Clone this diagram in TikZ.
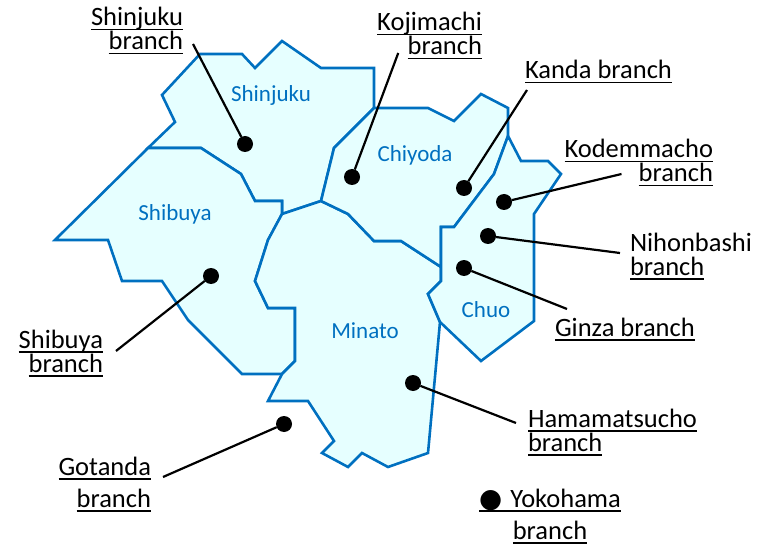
\documentclass[tikz,border=0pt]{standalone}
\usepackage{fontspec}
\setmainfont{Carlito}
\newfontfamily\dotfont{DejaVu Sans}
\usepackage{tkz-graph}
\usetikzlibrary{arrows}
\usetikzlibrary{shapes}

\definecolor{wardblue}{RGB}{0,112,192}
\definecolor{wardfill}{RGB}{230,255,255}
\newcommand{\undl}[1]{\setbox0=\hbox{#1}\rlap{\rule[-4.5pt]{\wd0}{1.8pt}}\box0}

\begin{document}
\begin{tikzpicture}[x = 1pt, y = -1pt]
	\tikzstyle{VertexStyle} = []
	\tikzstyle{EdgeStyle} = []
	\tikzstyle{wardStyle} = [draw = wardblue, fill = wardfill, line width = 2.6pt]
	\tikzstyle{wardNameStyle} = [anchor = base, inner sep = 0pt, text = wardblue, font = \fontsize{23}{26}\selectfont]
	\tikzstyle{dotStyle} = [shape = circle, minimum size = 16pt, inner sep = 0pt, fill = black]
	\tikzstyle{branchStyle} = [inner sep = 0pt, font = \fontsize{26.5}{24}\selectfont]
	\tikzstyle{branchWideStyle} = [inner sep = 0pt, font = \fontsize{26.5}{32}\selectfont]
	\tikzstyle{leaderStyle} = [line width = 2.2pt]
	\useasboundingbox (0,0) rectangle (765,545);
	% wards
	\draw[wardStyle] (200,54) -- (242,54) -- (255,68) -- (282,41) -- (321,68) -- (374,68) -- (374,108) -- (334,148) -- (321,201) -- (282,214) -- (282,201) -- (255,201) -- (241,174) -- (201,148) -- (148,148) -- (175,122) -- (162,95) -- cycle;
	\draw[wardStyle] (148,148) -- (201,148) -- (241,174) -- (255,201) -- (282,201) -- (282,214) -- (268,240) -- (255,281) -- (268,308) -- (295,308) -- (295,361) -- (282,374) -- (242,374) -- (188,320) -- (162,281) -- (122,281) -- (108,240) -- (55,240) -- cycle;
	\draw[wardStyle] (282,214) -- (321,201) -- (348,214) -- (374,241) -- (401,241) -- (441,267) -- (441,281) -- (428,294) -- (440,322) -- (428,453) -- (388,467) -- (362,453) -- (348,467) -- (322,453) -- (334,441) -- (308,401) -- (268,401) -- (282,374) -- (295,361) -- (295,308) -- (268,308) -- (255,281) -- (268,240) -- cycle;
	\draw[wardStyle] (321,201) -- (334,148) -- (374,108) -- (428,108) -- (454,121) -- (481,94) -- (508,108) -- (508,136) -- (494,174) -- (454,227) -- (441,227) -- (441,267) -- (401,241) -- (374,241) -- (348,214) -- cycle;
	\draw[wardStyle] (508,136) -- (521,161) -- (548,161) -- (561,174) -- (534,214) -- (534,321) -- (481,361) -- (440,322) -- (428,294) -- (441,281) -- (441,227) -- (454,227) -- (494,174) -- cycle;
	\Vertex[style = wardNameStyle, x = 271, y = 102, L = {Shinjuku}]{shinjukuname}
	\Vertex[style = wardNameStyle, x = 175, y = 221, L = {Shibuya}]{shibuyaname}
	\Vertex[style = wardNameStyle, x = 415, y = 162, L = {Chiyoda}]{chiyodaname}
	\Vertex[style = wardNameStyle, x = 365, y = 338, L = {Minato}]{minatoname}
	\Vertex[style = wardNameStyle, x = 486, y = 317, L = {Chuo}]{chuoname}
	% branches
	\Vertex[style = dotStyle, x = 245, y = 144, NoLabel]{shinjukudot}
	\Vertex[style = dotStyle, x = 352, y = 177, NoLabel]{kojimachidot}
	\Vertex[style = dotStyle, x = 464, y = 188, NoLabel]{kandadot}
	\Vertex[style = dotStyle, x = 504, y = 202, NoLabel]{kodemmachodot}
	\Vertex[style = dotStyle, x = 488, y = 236, NoLabel]{nihonbashidot}
	\Vertex[style = dotStyle, x = 464, y = 268, NoLabel]{ginzadot}
	\Vertex[style = dotStyle, x = 211, y = 276, NoLabel]{shibuyadot}
	\Vertex[style = dotStyle, x = 413, y = 383, NoLabel]{hamamatsuchodot}
	\Vertex[style = dotStyle, x = 284, y = 424, NoLabel]{gotandadot}
	\Vertex[style = {branchStyle, anchor = base east, align = right}, x = 183, y = 50, L = {\undl{Shinjuku}\\\undl{branch}}]{shinjukulbl}
	\Vertex[style = {branchStyle, anchor = base east, align = right}, x = 482, y = 55, L = {\undl{Kojimachi}\\\undl{branch}}]{kojimachilbl}
	\Vertex[style = {branchStyle, anchor = base west}, x = 525, y = 79, L = {\undl{Kanda branch}}]{kandalbl}
	\Vertex[style = {branchStyle, anchor = base east, align = right}, x = 713, y = 182, L = {\undl{Kodemmacho}\\\undl{branch}}]{kodemmacholbl}
	\Vertex[style = {branchStyle, anchor = base west, align = left}, x = 630, y = 275, L = {Nihonbashi\\\undl{branch}}]{nihonbashilbl}
	\Vertex[style = {branchStyle, anchor = base west}, x = 555, y = 336, L = {\undl{Ginza branch}}]{ginzalbl}
	\Vertex[style = {branchStyle, anchor = base west, align = left}, x = 528, y = 451, L = {\undl{Hamamatsucho}\\\undl{branch}}]{hamamatsucholbl}
	\Vertex[style = {branchStyle, anchor = base east, align = right}, x = 103, y = 372, L = {\undl{Shibuya}\\\undl{branch}}]{shibuyalbl}
	\Vertex[style = {branchWideStyle, anchor = base east, align = right}, x = 151, y = 507, L = {\undl{Gotanda}\\\undl{branch}}]{gotandalbl}
	\Vertex[style = {branchWideStyle, anchor = base, align = center}, x = 550, y = 539, L = {\undl{{\dotfont ●}\hspace{8pt}Yokohama}\\\undl{branch}}]{yokohamalbl}
	\Edge[style = leaderStyle](shinjukudot)([xshift = 10pt, yshift = 10.5pt]shinjukulbl.south east)
	\Edge[style = leaderStyle](kojimachidot)([xshift = 21pt, yshift = 6.5pt]kojimachilbl.south west)
	\Edge[style = leaderStyle](kandadot)([xshift = 2pt, yshift = -6.5pt]kandalbl.south west)
	\Edge[style = leaderStyle](kodemmachodot)([xshift = 57pt, yshift = 12.5pt]kodemmacholbl.south west)
	\Edge[style = leaderStyle](nihonbashidot)([xshift = -10pt, yshift = 26.5pt]nihonbashilbl.south west)
	\Edge[style = leaderStyle](ginzadot)([xshift = 12pt, yshift = 31.5pt]ginzalbl.south west)
	\Edge[style = leaderStyle](hamamatsuchodot)([xshift = -12pt, yshift = 32.5pt]hamamatsucholbl.south west)
	\Edge[style = leaderStyle](shibuyadot)([xshift = 13pt, yshift = 25.5pt]shibuyalbl.south east)
	\Edge[style = leaderStyle](gotandadot)([xshift = 12pt, yshift = 34.5pt]gotandalbl.south east)
\end{tikzpicture}
\end{document}
